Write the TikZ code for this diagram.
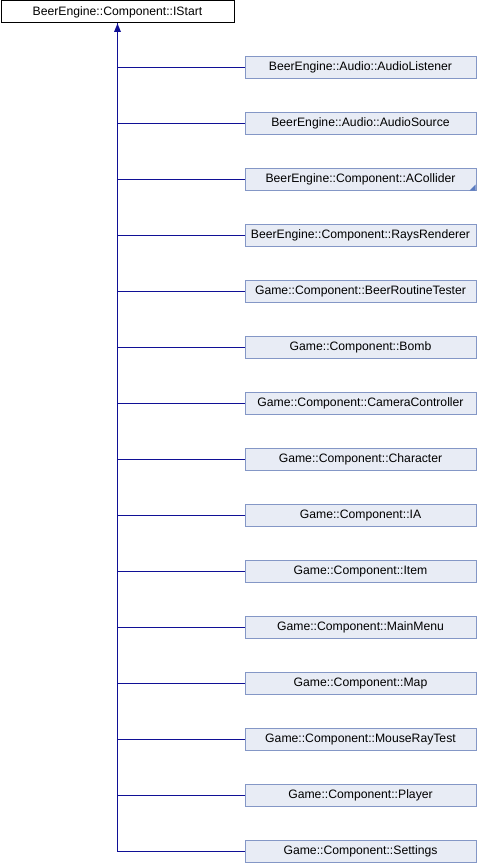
\documentclass[tikz,border=0pt]{standalone}
\usepackage{fontspec}
\setmainfont{Liberation Sans}
\usetikzlibrary{arrows.meta}
\definecolor{edgeblue}{HTML}{101096}
\definecolor{boxfill}{HTML}{E8ECF5}
\definecolor{boxline}{HTML}{8497C6}
\definecolor{cornerblue}{HTML}{5A7BC0}
\tikzset{
  base/.style={draw=black, fill=white, line width=1pt, minimum width=233pt, minimum height=22pt, inner sep=0pt, font=\fontsize{12.2}{14}\selectfont, anchor=north west},
  child/.style={draw=boxline, fill=boxfill, line width=1pt, minimum width=231pt, minimum height=22pt, inner sep=0pt, font=\fontsize{12.2}{14}\selectfont, anchor=west},
  conn/.style={draw=edgeblue, line width=1pt},
}
\begin{document}
\begin{tikzpicture}[x=1pt,y=-1pt]
\useasboundingbox (0,0) rectangle (478,864);
\node[base] (root) at (0.5,0.5) {BeerEngine::Component::IStart};
\coordinate (trunk) at (117.5,23);
\foreach \i/\name/\txt in {
 0/c0/BeerEngine::Audio::AudioListener,
 1/c1/BeerEngine::Audio::AudioSource,
 2/c2/BeerEngine::Component::ACollider,
 3/c3/BeerEngine::Component::RaysRenderer,
 4/c4/Game::Component::BeerRoutineTester,
 5/c5/Game::Component::Bomb,
 6/c6/Game::Component::CameraController,
 7/c7/Game::Component::Character,
 8/c8/Game::Component::IA,
 9/c9/Game::Component::Item,
 10/c10/Game::Component::MainMenu,
 11/c11/Game::Component::Map,
 12/c12/Game::Component::MouseRayTest,
 13/c13/Game::Component::Player,
 14/c14/Game::Component::Settings}{
  \node[child] (\name) at (244.5,{67.5+56*\i}) {\txt};
}
\fill[cornerblue] (c2.south east) ++(-1,-0.5) -- ++(0,-6) -- ++(-6,6) -- cycle;
\draw[conn] (root.south -| trunk) -- (trunk |- c14.west) -- (c14.west);
\foreach \n in {c0,c1,c2,c3,c4,c5,c6,c7,c8,c9,c10,c11,c12,c13}{
  \draw[conn] (trunk |- \n.west) -- (\n.west);
}
\fill[edgeblue] (117.5,23.5) -- (114,32) -- (121,32) -- cycle;
\end{tikzpicture}
\end{document}
